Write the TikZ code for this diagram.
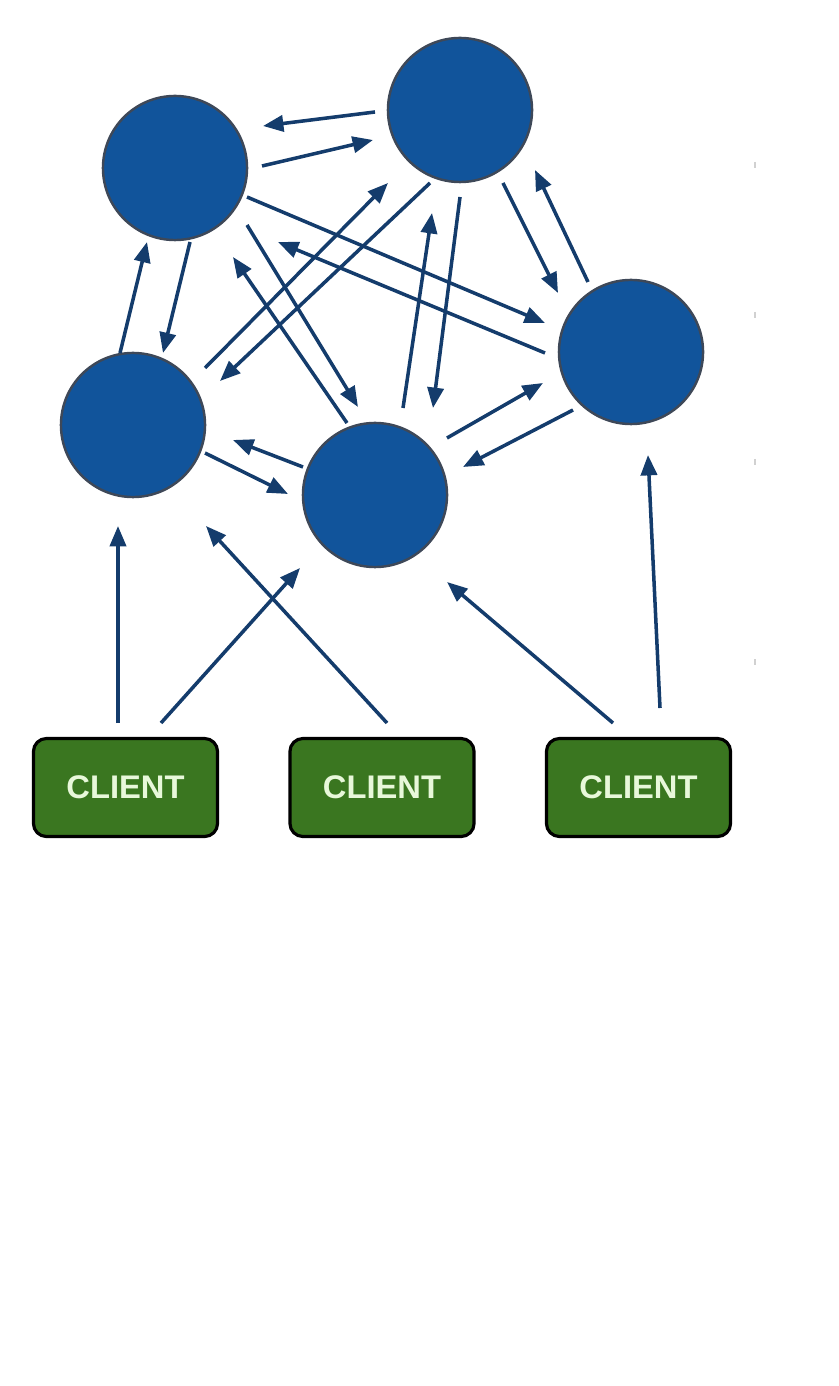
\documentclass[tikz,border=0pt]{standalone}
\usepackage{fontspec}
\setmainfont{Liberation Sans}
\usetikzlibrary{arrows.meta}
\definecolor{serverblue}{RGB}{17,84,155}
\definecolor{serverrim}{RGB}{62,72,88}
\definecolor{linkblue}{RGB}{20,60,108}
\definecolor{clientgreen}{RGB}{58,118,32}
\definecolor{clienttext}{RGB}{232,248,218}
\begin{document}
\begin{tikzpicture}[x=0.01cm, y=-0.01cm,
    server/.style={circle, fill=serverblue, draw=serverrim, line width=0.7pt, minimum size=1.44cm, inner sep=0pt},
    client/.style={rectangle, rounded corners=0.13cm, fill=clientgreen, draw=black, line width=0.9pt,
                   minimum width=1.84cm, minimum height=0.98cm, text=clienttext,
                   font=\bfseries\fontsize{9.3}{10}\selectfont},
    link/.style={linkblue, line width=1pt, -{Triangle[length=5.8pt, width=4.6pt]}},
    faint/.style={black!18, line width=0.4pt}]
    % 页面范围
    \useasboundingbox (0,0) rectangle (838,1386);

    % 1. 服务器节点
    \node[server] (A) at (175,168) {};
    \node[server] (B) at (460,110) {};
    \node[server] (C) at (631,352) {};
    \node[server] (D) at (133,425) {};
    \node[server] (E) at (375,495) {};

    % 2. 客户端
    \node[client] (K1) at (125.5,787.5) {CLIENT};
    \node[client] (K2) at (382,787.5) {CLIENT};
    \node[client] (K3) at (638.5,787.5) {CLIENT};

    % 3. 服务器之间的双向连接
    \draw[link] ([shift={(-85,2)}]B.center) -- ([shift={(88,-42)}]A.center);
    \draw[link] ([shift={(87,-2)}]A.center) -- ([shift={(-87,30)}]B.center);
    \draw[link] ([shift={(72,29)}]A.center) -- ([shift={(-86,-29)}]C.center);
    \draw[link] ([shift={(-86,1)}]C.center) -- ([shift={(103,74)}]A.center);
    \draw[link] ([shift={(15,74)}]A.center) -- ([shift={(30,-72)}]D.center);
    \draw[link] ([shift={(-13,-72)}]D.center) -- ([shift={(-28,74)}]A.center);
    \draw[link] ([shift={(72,-57)}]D.center) -- ([shift={(-72,73)}]B.center);
    \draw[link] ([shift={(-30,73)}]B.center) -- ([shift={(87,-44)}]D.center);
    \draw[link] ([shift={(72,57)}]A.center) -- ([shift={(-17,-88)}]E.center);
    \draw[link] ([shift={(-28,-72)}]E.center) -- ([shift={(58,89)}]A.center);
    \draw[link] ([shift={(28,-87)}]E.center) -- ([shift={(-28,103)}]B.center);
    \draw[link] ([shift={(0,87)}]B.center) -- ([shift={(58,-87)}]E.center);
    \draw[link] ([shift={(43,73)}]B.center) -- ([shift={(-73,-59)}]C.center);
    \draw[link] ([shift={(-43,-70)}]C.center) -- ([shift={(75,60)}]B.center);
    \draw[link] ([shift={(72,-57)}]E.center) -- ([shift={(-88,31)}]C.center);
    \draw[link] ([shift={(-58,58)}]C.center) -- ([shift={(88,-28)}]E.center);
    \draw[link] ([shift={(-72,-28)}]E.center) -- ([shift={(100,15)}]D.center);
    \draw[link] ([shift={(72,28)}]D.center) -- ([shift={(-87,-1)}]E.center);

    % 4. 客户端到服务器
    \draw[link] ([shift={(-7.5,-64.5)}]K1.center) -- ([shift={(-15,101)}]D.center);
    \draw[link] ([shift={(35.5,-64.5)}]K1.center) -- ([shift={(-75,73)}]E.center);
    \draw[link] ([shift={(5,-64.5)}]K2.center) -- ([shift={(73,101)}]D.center);
    \draw[link] ([shift={(-25.5,-64.5)}]K3.center) -- ([shift={(72,87)}]E.center);
    \draw[link] ([shift={(21.5,-79.5)}]K3.center) -- ([shift={(17,103)}]C.center);

    % 右侧的小刻线
    \foreach \y in {165,315,462,662}
      \draw[faint] (755,\y-3) -- (755,\y+3);
  \end{tikzpicture}
\end{document}
